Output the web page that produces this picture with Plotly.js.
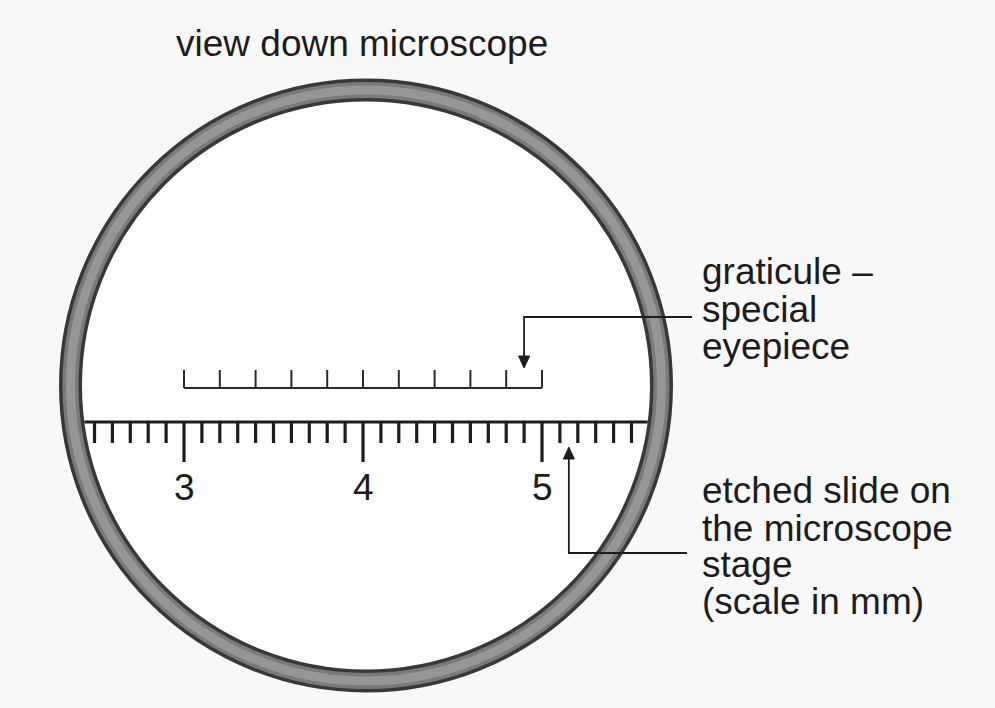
<!DOCTYPE html>
<html>
<head>
<meta charset="utf-8">
<script src="https://cdn.plot.ly/plotly-3.0.1.min.js"></script>
<style>html,body{margin:0;padding:0;background:#f8f8f8;}#plot{width:995px;height:708px;}</style>
</head>
<body>
<div id="plot"></div>
<script>
// ---- data ----
const stageTicks = [2.5,2.6,2.7,2.8,2.9,3.0,3.1,3.2,3.3,3.4,3.5,3.6,3.7,3.8,3.9,4.0,4.1,4.2,4.3,4.4,4.5,4.6,4.7,4.8,4.9,5.0,5.1,5.2,5.3,5.4,5.5];
const majorTicks = [3, 4, 5];
const majorLabels = ['3', '4', '5'];
const graticuleTicks = [3.0,3.2,3.4,3.6,3.8,4.0,4.2,4.4,4.6,4.8,5.0];
const titleText = 'view down microscope';
const graticuleLabel = ['graticule –', 'special', 'eyepiece'];
const stageLabel = ['etched slide on', 'the microscope', 'stage', '(scale in mm)'];
const graticulePointer = 4.9;   // mm position the graticule arrow points to
const stagePointer = 5.15;      // mm position the stage arrow points to

// ---- geometry / style ----
const W = 995, H = 708;
const pxPerMm = 179, mmOriginPx = 184, mmOrigin = 3;
const mmRange = [mmOrigin - mmOriginPx / pxPerMm, mmOrigin + (W - mmOriginPx) / pxPerMm];
const mmToPx = v => mmOriginPx + (v - mmOrigin) * pxPerMm;
const cx = 366, cy = 385.5, rMid = 295.5, ringW = 23;
const rInner = rMid - ringW / 2;
const stageY = 422, minorY = 443, majorY = 462, labelY = 487;
const gratY = 388, gratTop = 370;
const FS = 37;
const FONT = 'Liberation Sans, Arial, Helvetica, sans-serif';
const INK = '#1c1c1c';

function segs(xs, y0, y1) {
  const x = [], y = [];
  xs.forEach(v => { x.push(v, v, null); y.push(y0, y1, null); });
  return {x, y};
}

const halfChord = Math.sqrt(rInner * rInner - (stageY - cy) * (stageY - cy));
const stageL = (cx - halfChord - mmOriginPx) / pxPerMm + mmOrigin;
const stageR = (cx + halfChord - mmOriginPx) / pxPerMm + mmOrigin;

const minor = segs(stageTicks.filter(v => !majorTicks.some(m => Math.abs(m - v) < 1e-6)), stageY, minorY);
const major = segs(majorTicks, stageY, majorY);
const grat = segs(graticuleTicks, gratY, gratTop);

const traces = [];
traces.push({x: [stageL, stageR], y: [stageY, stageY], xaxis: 'x2', yaxis: 'y', mode: 'lines', line: {color: INK, width: 3}, hoverinfo: 'skip'});
traces.push({x: minor.x, y: minor.y, xaxis: 'x2', yaxis: 'y', mode: 'lines', line: {color: INK, width: 3.2}, hoverinfo: 'skip'});
traces.push({x: major.x, y: major.y, xaxis: 'x2', yaxis: 'y', mode: 'lines', line: {color: INK, width: 3.2}, hoverinfo: 'skip'});
traces.push({x: [graticuleTicks[0], graticuleTicks[graticuleTicks.length - 1]], y: [gratY, gratY], xaxis: 'x2', yaxis: 'y', mode: 'lines', line: {color: '#2a2a2a', width: 2}, hoverinfo: 'skip'});
traces.push({x: grat.x, y: grat.y, xaxis: 'x2', yaxis: 'y', mode: 'lines', line: {color: '#2a2a2a', width: 2}, hoverinfo: 'skip'});

// graticule pointer (elbow arrow)
const gpx = mmToPx(graticulePointer) ;
const gTip = 368, gElbowY = 317, gEnd = 692;
traces.push({x: [gEnd, gpx, gpx], y: [gElbowY, gElbowY, gTip - 10], mode: 'lines', line: {color: INK, width: 1.8}, hoverinfo: 'skip'});
traces.push({x: [gpx - 5.5, gpx + 5.5, gpx, gpx - 5.5], y: [gTip - 12, gTip - 12, gTip, gTip - 12], mode: 'lines', fill: 'toself', fillcolor: INK, line: {color: INK, width: 1}, hoverinfo: 'skip'});

// stage pointer
const spx = mmToPx(stagePointer);
const sTip = 447, sElbowY = 553, sEnd = 687;
traces.push({x: [sEnd, spx, spx], y: [sElbowY, sElbowY, sTip + 10], mode: 'lines', line: {color: INK, width: 1.8}, hoverinfo: 'skip'});
traces.push({x: [spx - 5.5, spx + 5.5, spx, spx - 5.5], y: [sTip + 12, sTip + 12, sTip, sTip + 12], mode: 'lines', fill: 'toself', fillcolor: INK, line: {color: INK, width: 1}, hoverinfo: 'skip'});

const annotations = [];
majorTicks.forEach((m, i) => annotations.push({x: m, y: labelY, xref: 'x2', yref: 'y', text: majorLabels[i], showarrow: false, xanchor: 'center', yanchor: 'middle', font: {family: FONT, size: FS, color: INK}}));
annotations.push({x: 362, y: 43, xref: 'x', yref: 'y', text: titleText, showarrow: false, xanchor: 'center', yanchor: 'middle', font: {family: FONT, size: FS, color: INK}});
const gBase = [283, 321, 358];
graticuleLabel.forEach((t, i) => annotations.push({x: 700, y: gBase[i] - 12, xref: 'x', yref: 'y', text: t, showarrow: false, xanchor: 'left', yanchor: 'middle', font: {family: FONT, size: FS, color: INK}}));
const sBase = [502, 540, 576, 613];
stageLabel.forEach((t, i) => annotations.push({x: 700, y: sBase[i] - 12, xref: 'x', yref: 'y', text: t, showarrow: false, xanchor: 'left', yanchor: 'middle', font: {family: FONT, size: FS, color: INK}}));

const shapes = [
  {type: 'circle', xref: 'x', yref: 'y', x0: cx - rMid, x1: cx + rMid, y0: cy - rMid, y1: cy + rMid, fillcolor: '#ffffff', line: {color: '#383838', width: ringW}, layer: 'below'},
  {type: 'circle', xref: 'x', yref: 'y', x0: cx - rMid, x1: cx + rMid, y0: cy - rMid, y1: cy + rMid, line: {color: '#7a7a7a', width: ringW - 7}, layer: 'below'},
  {type: 'circle', xref: 'x', yref: 'y', x0: cx - rMid, x1: cx + rMid, y0: cy - rMid, y1: cy + rMid, line: {color: '#969696', width: ringW - 14}, layer: 'below'}
];

const layout = {
  width: W, height: H,
  margin: {l: 0, r: 0, t: 0, b: 0},
  paper_bgcolor: '#f8f8f8', plot_bgcolor: '#f8f8f8',
  showlegend: false,
  xaxis: {range: [0, W], visible: false, fixedrange: true},
  xaxis2: {range: mmRange, overlaying: 'x', visible: false, fixedrange: true},
  yaxis: {range: [H, 0], visible: false, fixedrange: true},
  shapes: shapes,
  annotations: annotations
};
Plotly.newPlot('plot', traces, layout, {displayModeBar: false, staticPlot: true});
</script>
</body>
</html>
